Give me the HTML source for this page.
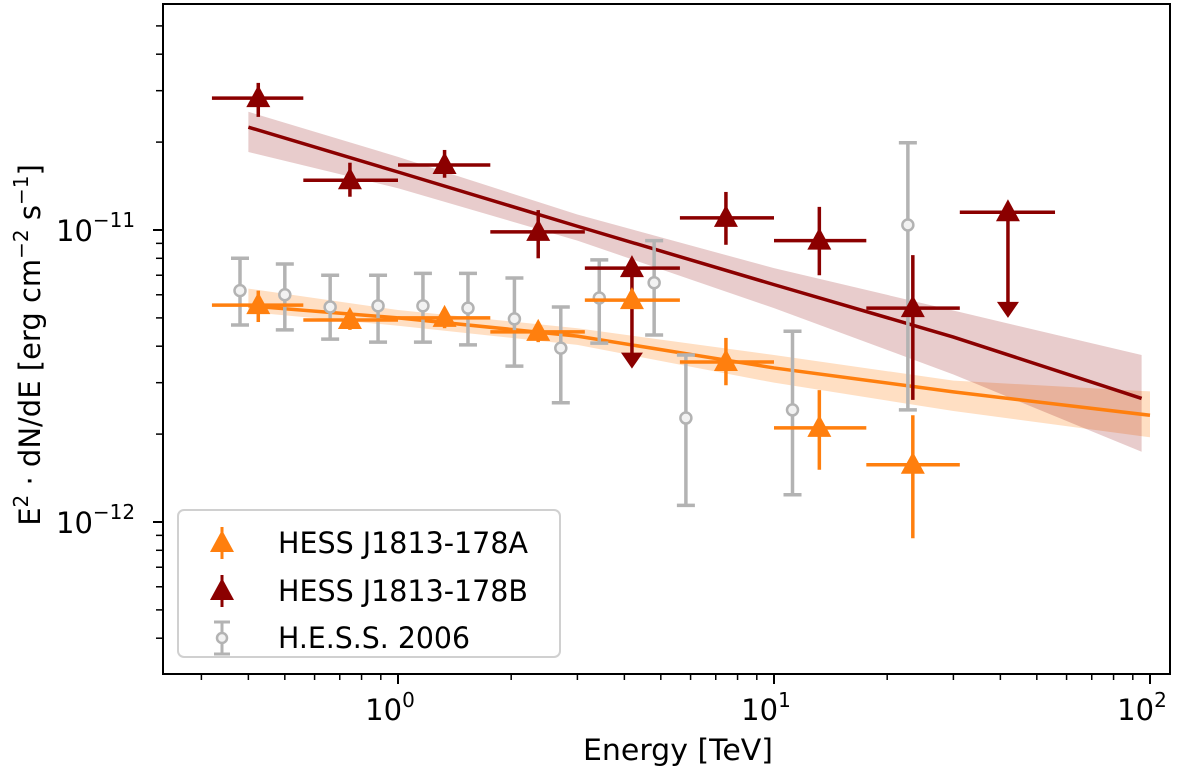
<!DOCTYPE html>
<html><head><meta charset="utf-8"><style>
html,body{margin:0;padding:0;background:#fff;}
svg{display:block;font-family:"DejaVu Sans","Liberation Sans",sans-serif;}
</style></head><body>
<svg id="chart" width="1200" height="776" viewBox="0 0 1200 776">
<g id="bands"></g>
<g id="lines"></g>
<g id="marks"></g>
<rect x="163" y="4" width="1007" height="670" fill="none" stroke="#000" stroke-width="2"/>
<g id="axes"></g>
<text x="678" y="760" font-size="29" text-anchor="middle" textLength="190" lengthAdjust="spacingAndGlyphs">Energy [TeV]</text>
<text transform="translate(40,345) rotate(-90)" font-size="29" text-anchor="middle">E<tspan font-size="20" dy="-12">2</tspan><tspan dy="12"> · dN/dE [erg cm</tspan><tspan font-size="20" dy="-12">−2</tspan><tspan dy="12"> s</tspan><tspan font-size="20" dy="-12">−1</tspan><tspan dy="12">]</tspan></text>
<g>
<rect x="178" y="510" width="382" height="147" rx="6" fill="#fff" fill-opacity="0.85" stroke="#d0d0d0" stroke-width="2"/>
<g id="legend-items"></g>
</g>
</svg>
<script>
// axis domain
const X0 = 398, XD = 376;   // px of 10^0, px per decade
const Y11 = 230, YD = 292;  // px of 1e-11, px per decade
function xs(e){ return X0 + XD*Math.log10(e); }
function ys(f){ return Y11 - YD*(Math.log10(f)+11); }

// HESS J1813-178A (orange)
const aE    = [0.425, 0.745, 1.33, 2.36, 4.19, 7.45, 13.2, 23.4];
const aElo  = [0.32, 0.56, 1.0, 1.76, 3.14, 5.62, 10.0, 17.6];
const aEhi  = [0.56, 1.0, 1.76, 3.14, 5.62, 10.0, 17.6, 31.2];
const aF    = [5.53e-12, 4.92e-12, 5.0e-12, 4.48e-12, 5.75e-12, 3.53e-12, 2.1e-12, 1.57e-12];
const aFlo  = [4.84e-12, 4.55e-12, 4.61e-12, 4.13e-12, null, 2.94e-12, 1.51e-12, 0.88e-12];
const aFhi  = [6.2e-12, 5.24e-12, 5.32e-12, 4.84e-12, null, 4.27e-12, 2.83e-12, 2.32e-12];

// HESS J1813-178B (dark red); ul = upper limit
const bE    = [0.425, 0.745, 1.33, 2.36, 4.19, 7.45, 13.2, 23.4, 41.9];
const bElo  = [0.32, 0.56, 1.0, 1.76, 3.14, 5.62, 10.0, 17.6, 31.2];
const bEhi  = [0.56, 1.0, 1.76, 3.14, 5.62, 10.0, 17.6, 31.2, 55.9];
const bF    = [2.83e-11, 1.48e-11, 1.67e-11, 0.985e-11, 0.74e-11, 1.10e-11, 0.92e-11, 0.54e-11, 1.15e-11];
const bFlo  = [2.44e-11, 1.30e-11, 1.51e-11, 0.80e-11, 0.335e-11, 0.89e-11, 0.70e-11, 0.262e-11, 0.50e-11];
const bFhi  = [3.19e-11, 1.70e-11, 1.88e-11, 1.17e-11, null, 1.35e-11, 1.20e-11, 0.82e-11, null];
const bUL   = [false, false, false, false, true, false, false, false, true];

// H.E.S.S. 2006 (grey)
const hE   = [0.38, 0.50, 0.66, 0.885, 1.165, 1.535, 2.04, 2.71, 3.43, 4.80, 5.83, 11.2, 22.7];
const hF   = [6.2e-12, 6.0e-12, 5.45e-12, 5.5e-12, 5.5e-12, 5.4e-12, 4.96e-12, 3.94e-12, 5.85e-12, 6.6e-12, 2.27e-12, 2.42e-12, 10.4e-12];
const hFlo = [4.73e-12, 4.55e-12, 4.23e-12, 4.13e-12, 4.13e-12, 4.04e-12, 3.42e-12, 2.56e-12, 4.1e-12, 4.37e-12, 1.14e-12, 1.24e-12, 2.42e-12];
const hFhi = [8.0e-12, 7.65e-12, 7.0e-12, 7.0e-12, 7.1e-12, 7.1e-12, 6.85e-12, 5.45e-12, 7.9e-12, 9.2e-12, 3.73e-12, 4.5e-12, 19.9e-12];

// model lines and bands
const mE    = [0.40, 1, 3, 10, 30, 95];
const bLine = [2.25e-11, 1.58e-11, 1.03e-11, 0.65e-11, 0.43e-11, 0.265e-11];
const bBandHi = [2.54e-11, 1.78e-11, 1.13e-11, 0.74e-11, 0.53e-11, 0.373e-11];
const bBandLo = [1.85e-11, 1.39e-11, 0.92e-11, 0.54e-11, 0.32e-11, 0.174e-11];
const aLineE = [0.40, 1, 3, 10, 30, 100];
const aLine  = [5.5e-12, 5.0e-12, 4.33e-12, 3.37e-12, 2.79e-12, 2.32e-12];
const aBandHi = [6.3e-12, 5.32e-12, 4.61e-12, 3.73e-12, 3.05e-12, 2.8e-12];
const aBandLo = [5.24e-12, 4.7e-12, 4.04e-12, 3.0e-12, 2.4e-12, 1.95e-12];

const NS = "http://www.w3.org/2000/svg";
function mk(tag, attrs, parent){ const e=document.createElementNS(NS,tag); for(const k in attrs) e.setAttribute(k, attrs[k]); parent.appendChild(e); return e; }

const bands=document.getElementById('bands'), lines=document.getElementById('lines'), marks=document.getElementById('marks'), axes=document.getElementById('axes');

function band(E, hi, lo, color, op, name){
  let d = E.map((e,i)=>(i?'L':'M')+xs(e)+','+ys(hi[i])).join(' ');
  for(let i=E.length-1;i>=0;i--) d+=' L'+xs(E[i])+','+ys(lo[i]);
  const p=mk('path',{d:d+'Z',fill:color,'fill-opacity':op,stroke:'none'},bands);
  
  
}
band(aLineE, aBandHi, aBandLo, '#ff7f0e', 0.25, 'band-a');
band(mE, bBandHi, bBandLo, '#8b0000', 0.2, 'band-b');

function line(E, F, color, name){
  const p=mk('polyline',{points:E.map((e,i)=>xs(e)+','+ys(F[i])).join(' '),fill:'none',stroke:color,'stroke-width':3.5},lines);
  
  
}
line(aLineE, aLine, '#ff7f0e', 'fit-line-a');
line(mE, bLine, '#8b0000', 'fit-line-b');

function tri(x,y,color,parent){
  return mk('polygon',{points:`${x},${y-13} ${x-12},${y+9} ${x+12},${y+9}`,fill:color},parent);
}

// grey points
hE.forEach((e,i)=>{
  const g=mk('g',{},marks);
  
  
  const x=xs(e), y1=ys(hFhi[i]), y2=ys(hFlo[i]);
  mk('line',{x1:x,x2:x,y1:y1,y2:y2,stroke:'#b3b3b3','stroke-width':3.5},g);
  mk('line',{x1:x-9,x2:x+9,y1:y1,y2:y1,stroke:'#b3b3b3','stroke-width':3.5},g);
  mk('line',{x1:x-9,x2:x+9,y1:y2,y2:y2,stroke:'#b3b3b3','stroke-width':3.5},g);
  mk('circle',{cx:x,cy:ys(hF[i]),r:5.5,fill:'#f2f2f2',stroke:'#b3b3b3','stroke-width':2.5},g);
});

function series(E,Elo,Ehi,F,Flo,Fhi,UL,color,name){
  E.forEach((e,i)=>{
    const g=mk('g',{},marks);
    
    
    const x=xs(e), y=ys(F[i]);
    mk('line',{x1:xs(Elo[i]),x2:xs(Ehi[i]),y1:y,y2:y,stroke:color,'stroke-width':3.5},g);
    if(UL && UL[i]){
      const yb=ys(Flo[i]);
      mk('line',{x1:x,x2:x,y1:y,y2:yb-12,stroke:color,'stroke-width':3.5},g);
      mk('polygon',{points:`${x-11},${yb-16} ${x+11},${yb-16} ${x},${yb}`,fill:color},g);
    } else if(Fhi[i]!==null){
      mk('line',{x1:x,x2:x,y1:ys(Fhi[i]),y2:ys(Flo[i]),stroke:color,'stroke-width':3.5},g);
    }
    tri(x,y,color,g);
  });
}
series(bE,bElo,bEhi,bF,bFlo,bFhi,bUL,'#8b0000','point-b');
series(aE,aElo,aEhi,aF,aFlo,aFhi,null,'#ff7f0e','point-a');

// axes ticks
const xMajor=[1,10,100], xLabels=['0','1','2'];
for(let d=-1; d<=2; d++) for(let m=2;m<=9;m++){ const v=m*Math.pow(10,d); const x=xs(v); if(x>163&&x<1170) mk('line',{x1:x,x2:x,y1:674,y2:680,stroke:'#000','stroke-width':1.5},axes); }
xMajor.forEach((v,i)=>{ const x=xs(v);
  mk('line',{x1:x,x2:x,y1:674,y2:684,stroke:'#000','stroke-width':2},axes);
  const t=mk('text',{x:x-8,y:720,'font-size':29,'text-anchor':'middle'},axes);
  
  
  t.innerHTML='10<tspan font-size="20" dy="-13">'+xLabels[i]+'</tspan>';
});
for(let d=-13; d<=-11; d++) for(let m=2;m<=9;m++){ const v=m*Math.pow(10,d); const y=ys(v); if(y>4&&y<674) mk('line',{x1:156,x2:163,y1:y,y2:y,stroke:'#000','stroke-width':1.5},axes); }
const yMajor=[1e-11,1e-12], yLabels=['−11','−12'];
yMajor.forEach((v,i)=>{ const y=ys(v);
  mk('line',{x1:153,x2:163,y1:y,y2:y,stroke:'#000','stroke-width':2},axes);
  const t=mk('text',{x:56,y:y+11,'font-size':29,'text-anchor':'start'},axes);
  
  
  t.innerHTML='10<tspan font-size="20" dy="-14">'+yLabels[i]+'</tspan>';
});

// legend
const li=document.getElementById('legend-items');
const legNames=['HESS J1813-178A','HESS J1813-178B','H.E.S.S. 2006'];
const legLens=[250,250,192];
const legColors=['#ff7f0e','#8b0000','#b3b3b3'];
const legY=[543,591,638];
legNames.forEach((n,i)=>{
  const g=mk('g',{},li);
  
  
  const x=222,y=legY[i];
  if(i<2){
    mk('line',{x1:x,x2:x,y1:y-16,y2:y+16,stroke:legColors[i],'stroke-width':3},g);
    tri(x,y,legColors[i],g);
  } else {
    mk('line',{x1:x,x2:x,y1:y-16,y2:y+16,stroke:legColors[i],'stroke-width':3},g);
    mk('line',{x1:x-8,x2:x+8,y1:y-16,y2:y-16,stroke:legColors[i],'stroke-width':3},g);
    mk('line',{x1:x-8,x2:x+8,y1:y+16,y2:y+16,stroke:legColors[i],'stroke-width':3},g);
    mk('circle',{cx:x,cy:y,r:5,fill:'#f2f2f2',stroke:legColors[i],'stroke-width':2.5},g);
  }
  const t=mk('text',{x:278,y:y+10,'font-size':29,textLength:legLens[i],lengthAdjust:'spacingAndGlyphs'},g);
  t.textContent=n;
});
</script>
</body></html>
